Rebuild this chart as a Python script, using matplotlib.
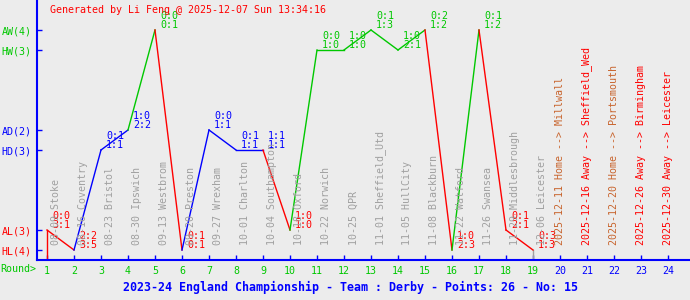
import matplotlib
matplotlib.use("Agg")
import matplotlib.pyplot as plt

# level of each result on the y axis
levels = {"HL": 0, "AL": 1, "HD": 5, "AD": 6, "HW": 10, "AW": 11}
level_labels = ["HL(4)", "AL(3)", "HD(3)", "AD(2)", "HW(3)", "AW(4)"]
level_colors = ["red", "red", "blue", "blue", "#00c800", "#00c800"]

results = ["AL", "HL", "HD", "AD", "AW", "HL", "AD", "HD", "HD", "AL",
           "HW", "HW", "AW", "HW", "AW", "HL", "AW", "AL", "HL"]
half_time = ["0:0", "2:2", "0:1", "1:0", "0:0", "0:1", "0:0", "0:1", "1:1", "1:0",
             "0:0", "1:0", "0:1", "1:0", "0:2", "1:0", "0:1", "0:1", "0:3"]
full_time = ["3:1", "3:5", "1:1", "2:2", "0:1", "0:1", "1:1", "1:1", "1:1", "1:0",
             "1:0", "1:0", "1:3", "2:1", "1:2", "2:3", "1:2", "2:1", "1:3"]
played = ["08-09 Stoke", "08-16 Coventry", "08-23 Bristol", "08-30 Ipswich",
          "09-13 Westbrom", "09-20 Preston", "09-27 Wrexham", "10-01 Charlton",
          "10-04 Southampton", "10-18 Oxford", "10-22 Norwich", "10-25 QPR",
          "11-01 Sheffield_Utd", "11-05 HullCity", "11-08 Blackburn",
          "11-22 Watford", "11-26 Swansea", "11-29 Middlesbrough", "12-06 Leicester"]
upcoming = ["2025-12-11 Home --> Millwall", "2025-12-16 Away --> Sheffield_Wed",
            "2025-12-20 Home --> Portsmouth", "2025-12-26 Away --> Birmingham",
            "2025-12-30 Away --> Leicester"]
n_rounds = 24

GREEN = "#00c800"
BLUE = "blue"
RED = "red"
GRAY = "#a0a0a0"
HOME = "#c8642d"
BG = "#ececec"
FONT = "DejaVu Sans Mono"
FS = 7.2

def res_color(r):
    return {"W": GREEN, "D": BLUE, "L": RED}[r[1]]

fig = plt.figure(figsize=(6.9, 3.0), dpi=100, facecolor=BG)
ax = fig.add_axes([37 / 690, 40 / 300, 653 / 690, 260 / 300], facecolor=BG)
ax.set_xlim(1 - 10 / 27, 1 + 643 / 27)
ax.set_ylim(-0.5, 12.5)

ys = [levels[r] for r in results]
xs = list(range(1, len(results) + 1))

# start and end marks
ax.plot([1, 1], [-0.5, ys[0]], color=res_color(results[0]), lw=1.0)
ax.plot([xs[-1], xs[-1]], [ys[-1], -0.5], color=GRAY, lw=1.0)
for i in range(1, len(xs)):
    ax.plot([xs[i - 1], xs[i]], [ys[i - 1], ys[i]], color=res_color(results[i]), lw=1.0)

for x, y, r, h, f in zip(xs, ys, results, half_time, full_time):
    ax.text(x + 0.19, y - 0.02, h + "\n" + f, color=res_color(r), family=FONT,
            fontsize=FS, ha="left", va="bottom", linespacing=0.95)

for x, s in zip(xs, played):
    ax.text(x + 0.35, 0.25, s, color=GRAY, family=FONT, fontsize=FS,
            rotation=90, ha="center", va="bottom")

for i, s in enumerate(upcoming):
    x = len(played) + 1 + i
    c = HOME if "Home" in s else RED
    ax.text(x, 0.25, s, color=c, family=FONT, fontsize=FS,
            rotation=90, ha="center", va="bottom")

for side in ["top", "right"]:
    ax.spines[side].set_visible(False)
for side in ["left", "bottom"]:
    ax.spines[side].set_color(BLUE)
    ax.spines[side].set_linewidth(1.5)

ax.set_yticks([levels[k] for k in ["HL", "AL", "HD", "AD", "HW", "AW"]])
ax.set_yticklabels(level_labels, family=FONT, fontsize=FS)
for lab, c in zip(ax.get_yticklabels(), level_colors):
    lab.set_color(c)

ax.set_xticks(range(1, n_rounds + 1))
ax.set_xticklabels([str(i) for i in range(1, n_rounds + 1)], family=FONT, fontsize=FS)
for i, lab in enumerate(ax.get_xticklabels()):
    lab.set_color(GREEN if i < len(results) else BLUE)

ax.tick_params(direction="in", length=3.6, width=1, color=BLUE, pad=4)

fig.text(0, 1 - 269 / 300, "Round>", color=GREEN, family=FONT, fontsize=FS,
         ha="left", va="center")
fig.text(50 / 690, 1 - 10 / 300, "Generated by Li Feng @ 2025-12-07 Sun 13:34:16",
         color=RED, family=FONT, fontsize=FS, ha="left", va="center")
fig.text(351 / 690, 1 - 287 / 300,
         "2023-24 England Championship - Team : Derby - Points: 26 - No: 15",
         color=BLUE, family=FONT, fontsize=8.4, fontweight="bold",
         ha="center", va="center")

fig.savefig("out.png", dpi=100, facecolor=BG)
